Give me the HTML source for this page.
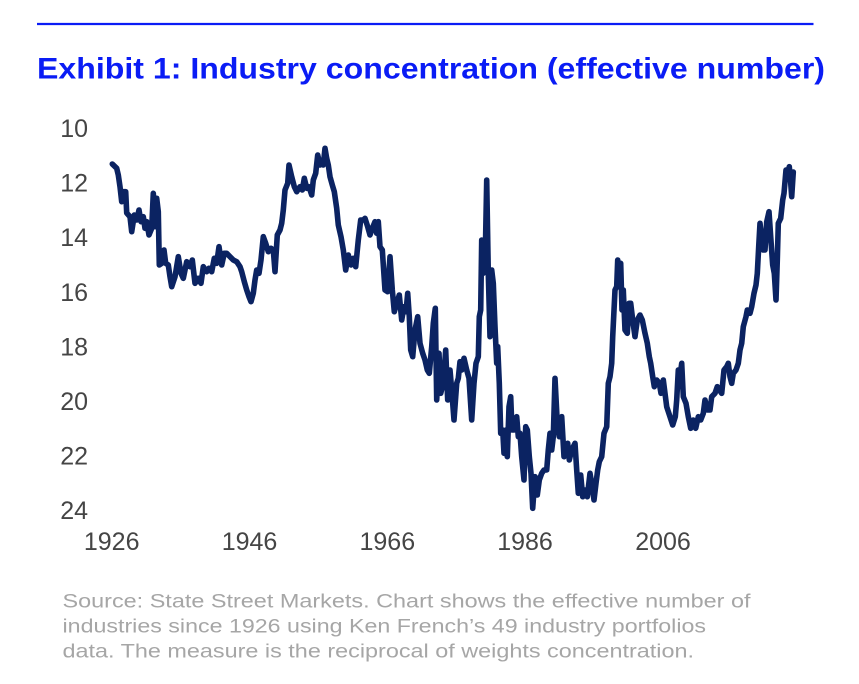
<!DOCTYPE html>
<html>
<head>
<meta charset="utf-8">
<style>
  html,body{margin:0;padding:0;background:#fff;}
  svg{display:block;}
</style>
</head>
<body>
<svg width="859" height="684" viewBox="0 0 859 684" xmlns="http://www.w3.org/2000/svg">
  <rect x="0" y="0" width="859" height="684" fill="#ffffff"/>
  <line x1="37" y1="24" x2="813.5" y2="24" stroke="#0a1cf5" stroke-width="2.2"/>
  <text x="37" y="78.5" font-family="Liberation Sans, Arial, sans-serif" font-weight="bold" font-size="30" fill="#0a1cf5" textLength="788" lengthAdjust="spacingAndGlyphs">Exhibit 1: Industry concentration (effective number)</text>

  <g font-family="Liberation Sans, Arial, sans-serif" font-size="25" fill="#454545" text-anchor="end">
    <text x="88" y="137">10</text>
    <text x="88" y="191.6">12</text>
    <text x="88" y="246.2">14</text>
    <text x="88" y="300.8">16</text>
    <text x="88" y="355.4">18</text>
    <text x="88" y="410">20</text>
    <text x="88" y="464.6">22</text>
    <text x="88" y="519.2">24</text>
  </g>
  <g font-family="Liberation Sans, Arial, sans-serif" font-size="25" fill="#454545" text-anchor="middle">
    <text x="111.7" y="550">1926</text>
    <text x="249.5" y="550">1946</text>
    <text x="387.3" y="550">1966</text>
    <text x="525" y="550">1986</text>
    <text x="663" y="550">2006</text>
  </g>

  <polyline fill="none" stroke="#0b2362" stroke-width="5.6" stroke-linejoin="round" stroke-linecap="round" points="
112.3,164 116.7,168.3 118.3,175 120,186.7 121.7,201.7 123.3,191.7 125.7,191.7 126.7,213 130,216.7 131.7,231.7 134.3,215 136.7,220 139,210 141,221.7 143.3,216.7 145,228.3 146.7,221.7 149,235 151.7,228.3 153.3,193.3 155,226.7 156.7,198.3 158.3,211.7 159.3,265 161.7,263.3 164,250 165.7,263.3 168.3,265 170,276.7 171.7,286.7 175,276.7 178.3,256.7 181,273.3 183.3,278.3 186.7,261.7 190,266.7 192.3,260 195,283.3 198.3,278.3 201,283.3 203.3,266.7 206.7,271.7 209,268.3 211.7,271.7 214.3,258.3 216.7,263.3 219,246.7 221.7,265 224.3,253.3 226.7,253.3 230,256.7 233.3,260 236.7,261.7 240,266.7 241.7,271.7 244.3,281.7 246.7,290 249,296.7 251,301.7 253.3,293.3 255,280
256.7,270 259,273.3 261,260 263.3,236.7 265.7,243.3 268.3,251.7 271,248.3 273.3,250 275,271.7 277.3,235 280,230 281.7,223.3 283.3,210 285,190 287.7,183.3 289,165 291.7,176.7 294.3,186.7 296.7,191.7 300,186.7 302.3,190 304.3,178.3 306.7,188.3 309,186.7 311.7,195 313.3,180 315.7,173.3 317.7,155 320,165 321.7,161.7 323.3,165 325,148.3 326.7,158.3 328.3,165 330,176.7 332.3,185 334.3,191.7 336.7,208.3 338.3,225 341,236.7 343.3,250 345.7,270 348.3,255 351,265 353.3,258.3 355.7,266.7 358.3,240 360.7,220 363.3,220 365,218.3 367.7,226.7 370,235 372.3,228.3 375,221.7 376.7,233.3 378.3,221.7 380,246.7 382.3,250 385,290 387.7,291.7 390,256.7 392.3,290 394.3,311.7
396.7,303.3 399.3,295 401.7,320 404,306.7 406,311.7 407.7,293.3 409.3,316.7 410.7,350 412.7,356.7 415,330 417.7,316.7 420,343.3 422.7,353.3 425,360 427.3,370 429.3,373.3 431.7,346.7 433.3,323.3 435.3,308.3 436.7,400 439,353.3 440.7,393.3 443.3,383.3 445.7,350 447.7,400 450,370 451.7,390 454,420 456.7,383.3 458.3,378.3 460,361.7 461.7,370 464,358.3 466.7,370 469,378.3 471.7,420 474,383.3 476,363.3 478.3,356.7 479.3,316.7 480.7,310 481.7,240 483.3,273.3 485,270 486.7,180 488.3,273.3 490,336.7 491.7,270 493.3,283.3 495,326.7 496.7,363.3 497.7,346.7 499.3,383.3 500.7,433.3 502.7,430 504,453.3 506,430 507.3,456.7 509,406.7 510.7,396.7 512,430 514,430 516.7,416.7 518.3,436.7 520,433.3 521.7,456.7 524,480 525.7,426.7 527.3,430 529.3,456.7 531,473.3 532.7,508.3 535,476.7 537.3,495
539.3,480 541.7,473.3 544,470 546.7,470 548.3,450 550,433.3 551.7,450 553.3,436.7 555,378.3 557.3,423.3 559.3,436.7 561.7,416.7 564,456.7 566,450 567.7,443.3 569.3,460 571.7,450 575,443.3 576.7,470 578.3,493.3 580.7,475 582.7,496.7 585,490 587.3,496.7 590,473.3 591.7,483.3 594,500 596,483.3 597.7,470 599.3,461.7 601.7,456.7 604,433.3 606.7,426.7 608.3,383.3 610,376.7 611.7,363.3 612.7,336.7 615,290 616.7,286.7 617.7,260 619.3,283.3 620.7,263.3 622,310 623.3,290 625,330 627.3,333.3 629,303.3 630.7,303.3 632.7,320 635,336.7 637.3,320 640,315 642.3,320 645,333.3 647.3,343.3 649.3,356.7 650.7,363.3 652.7,376.7 654.3,386.7 656.7,380 659.3,383.3 661,393.3 663.3,380 665,393.3 666.7,406.7 670,416.7 672.7,425 675.3,416.7 676.7,400 678.3,370 680,376.7 681.7,363.3 683.3,396.7 686,403.3 688.3,416.7 690.7,428.3 693.3,420 695.7,428.3 698.3,416.7 700.7,420 703.3,413.3 705,400 707.3,410 710,410 711.7,396.7 715,393.3 717.3,386.7 719.3,390 721.7,393.3 724,370 726.7,366.7 728.3,363.3 730,376.7 731.7,383.3 733.3,373.3 736,370 738.3,363.3 740,350 741.7,343.3 743.3,326.7 746,316.7 747.3,310 750,313.3 751.7,306.7 754,293.3 756,285 757.3,273.3 758.7,246.7 760,223.3 761.7,238 763.3,250 765,250 766.7,222 769,211.7 770.7,236.7 772.7,265 774.3,273.3 776,300 777.3,260 778.3,223.3 780.7,218.3 782.7,200 784,193.3 786,170 787.5,176 789.3,166.7 790.5,180 791.7,196.7 793.3,172"/>

  <g font-family="Liberation Sans, Arial, sans-serif" font-size="19.5" fill="#a6a6a6">
    <text x="62.5" y="607.3" textLength="688" lengthAdjust="spacingAndGlyphs">Source: State Street Markets. Chart shows the effective number of</text>
    <text x="62.5" y="632.5" textLength="643.5" lengthAdjust="spacingAndGlyphs">industries since 1926 using Ken French’s 49 industry portfolios</text>
    <text x="62.5" y="657.5" textLength="631.5" lengthAdjust="spacingAndGlyphs">data. The measure is the reciprocal of weights concentration.</text>
  </g>
</svg>
</body>
</html>
